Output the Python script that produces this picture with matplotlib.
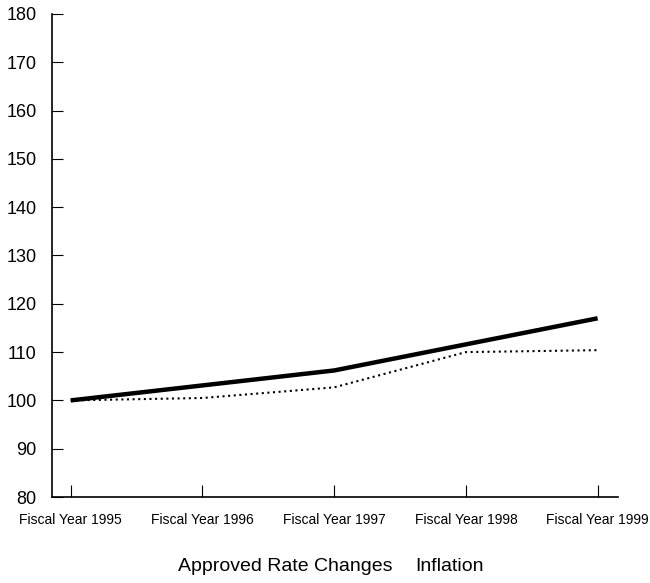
import matplotlib
matplotlib.use("Agg")
import matplotlib.pyplot as plt

plt.rcParams['font.family'] = ['Liberation Sans', 'DejaVu Sans']

years = ["Fiscal Year 1995", "Fiscal Year 1996", "Fiscal Year 1997",
         "Fiscal Year 1998", "Fiscal Year 1999"]
approved = [100, 103.1, 106.2, 111.6, 117.0]
inflation = [100, 100.5, 102.7, 110.0, 110.4]
yticks = [80, 90, 100, 110, 120, 130, 140, 150, 160, 170, 180]

fig = plt.figure(figsize=(6.5, 5.83), dpi=100)
ax = fig.add_axes([0.08, 0.1475, 0.871, 0.8285])

x = range(len(years))
ax.plot(x, approved, color='black', lw=3.2, solid_capstyle='butt',
        label='Approved Rate Changes')
ax.plot(x, inflation, color='black', lw=1.5, linestyle=(0, (1, 1.7)),
        label='Inflation')

ax.set_xlim(-0.142, 4.156)
ax.set_ylim(80, 180)
ax.set_xticks(list(x))
ax.set_xticklabels(years, fontsize=10)
ax.set_yticks(yticks)
ax.set_yticklabels([str(v) for v in yticks], fontsize=13)

ax.spines['top'].set_visible(False)
ax.spines['right'].set_visible(False)
for s in ('left', 'bottom'):
    ax.spines[s].set_linewidth(1.2)
ax.tick_params(axis='x', direction='in', length=8.4, width=0.8, pad=11.5)
ax.tick_params(axis='y', direction='in', length=8, width=0.8, pad=11)

# legend shows only the names, no line samples
leg = fig.legend(loc='center', bbox_to_anchor=(0.509, 0.029), ncol=2,
                 frameon=False, fontsize=14, handlelength=0, handletextpad=0,
                 columnspacing=1.13)
for h in leg.legend_handles:
    h.set_visible(False)

fig.savefig("out.png", dpi=100)
